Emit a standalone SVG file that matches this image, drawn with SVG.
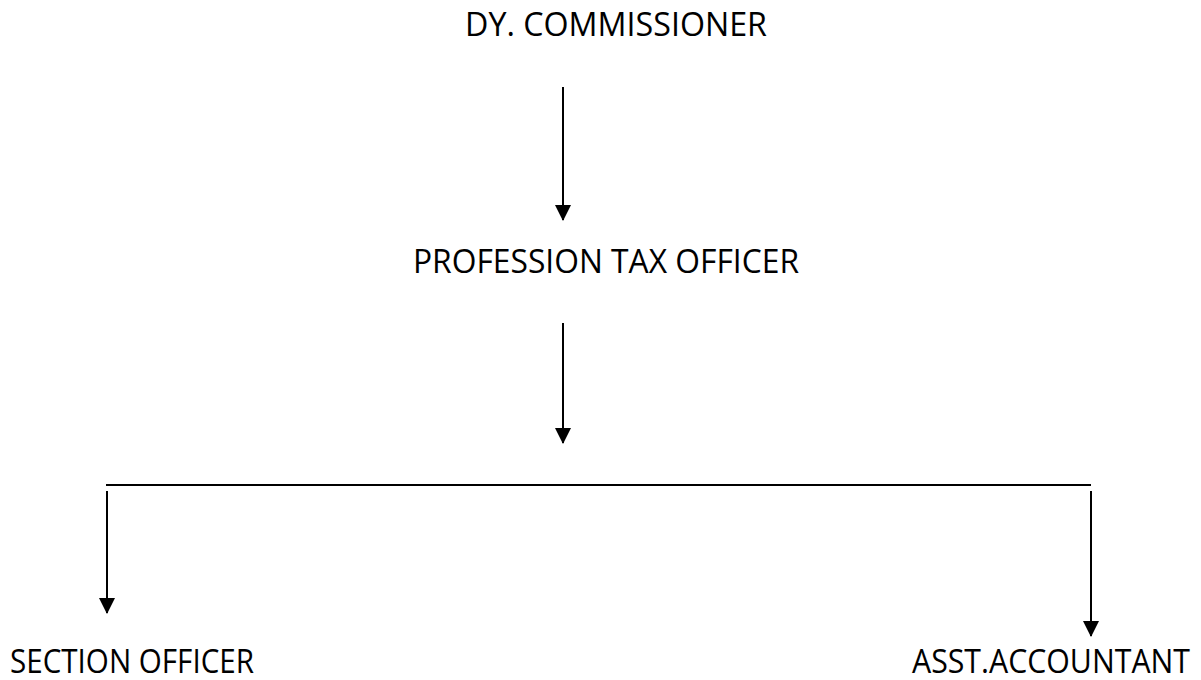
<svg xmlns="http://www.w3.org/2000/svg" width="1201" height="680" viewBox="0 0 1201 680">
<style>
text{font-family:"Open Sans","Liberation Sans",sans-serif;font-size:32.5px;fill:#000}
.c{stroke:#000;stroke-width:2;fill:none}
</style>
<defs>
<marker id="ah" markerUnits="userSpaceOnUse" markerWidth="16" markerHeight="16" viewBox="0 0 16 16" refX="15" refY="8" orient="auto">
<path d="M0,0 L16,8 L0,16 Z" fill="#000"/>
</marker>
</defs>
<rect width="1201" height="680" fill="#fff"/>
<g id="n-dy-commissioner"><text x="465" y="36" textLength="302" lengthAdjust="spacingAndGlyphs">DY. COMMISSIONER</text></g>
<g id="n-profession-tax-officer"><text x="413" y="273" textLength="386" lengthAdjust="spacingAndGlyphs">PROFESSION TAX OFFICER</text></g>
<g id="n-section-officer"><text x="10" y="673" textLength="244" lengthAdjust="spacingAndGlyphs">SECTION OFFICER</text></g>
<g id="n-asst-accountant"><text x="912" y="673" textLength="278" lengthAdjust="spacingAndGlyphs">ASST.ACCOUNTANT</text></g>
<g id="connectors">
<line class="c" x1="563" y1="87" x2="563" y2="220" marker-end="url(#ah)"/>
<line class="c" x1="563" y1="323" x2="563" y2="443" marker-end="url(#ah)"/>
<line class="c" x1="106" y1="485" x2="1091" y2="485"/>
<line class="c" x1="107" y1="491" x2="107" y2="613" marker-end="url(#ah)"/>
<line class="c" x1="1091" y1="491" x2="1091" y2="636" marker-end="url(#ah)"/>
</g>
</svg>
